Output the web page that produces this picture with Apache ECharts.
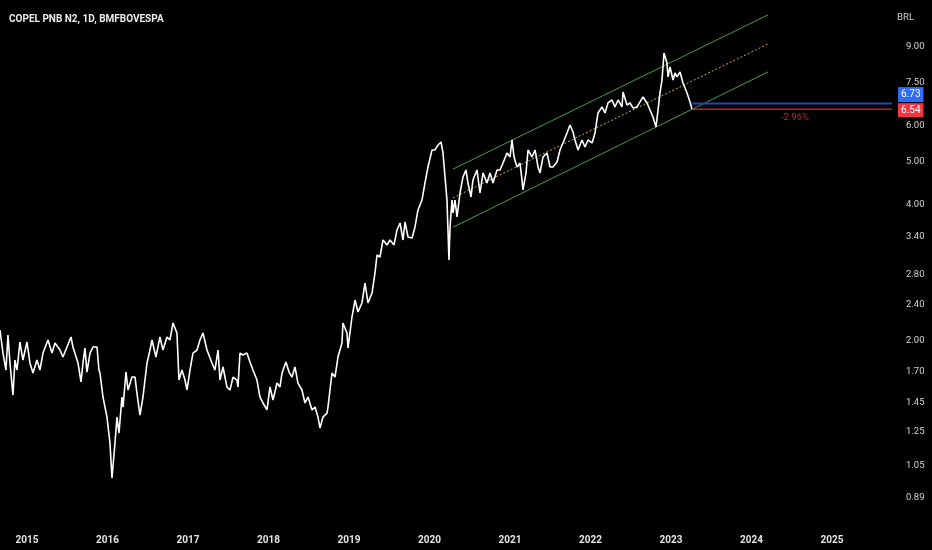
<!DOCTYPE html>
<html><head><meta charset="utf-8">
<script src="https://cdn.jsdelivr.net/npm/echarts@6/dist/echarts.min.js"></script>
<style>html,body{margin:0;padding:0;background:#000;}#c{width:932px;height:550px;}</style>
</head><body><div id="c"></div>
<script>
// ---- data ----
const titleText = 'COPEL PNB N2, 1D, BMFBOVESPA';
const currency = 'BRL';
const yearTicks = [2015,2016,2017,2018,2019,2020,2021,2022,2023,2024,2025];
const priceTicks = [0.89,1.05,1.25,1.45,1.70,2.00,2.40,2.80,3.40,4.00,5.00,6.00,7.50,9.00];
// [fractional year, price]
const priceSeries = [
[2014.665,2.107],[2014.702,1.872],[2014.739,1.716],[2014.764,2.054],[2014.789,1.779],[2014.826,1.509],[2014.851,1.806],[2014.876,1.716],[2014.913,1.981],[2014.950,1.806],
[2015.000,1.981],[2015.037,1.779],[2015.075,1.690],[2015.124,1.806],[2015.161,1.716],[2015.199,1.872],[2015.261,2.002],[2015.311,1.872],[2015.348,1.971],[2015.410,1.901],
[2015.447,1.834],[2015.497,1.931],[2015.547,2.033],[2015.571,1.931],[2015.634,1.779],[2015.671,1.614],[2015.696,1.779],[2015.720,1.921],[2015.745,1.698],[2015.783,1.872],
[2015.820,1.931],[2015.870,1.931],[2015.894,1.716],[2015.907,1.690],[2015.944,1.494],[2015.994,1.348],[2016.031,1.180],[2016.056,0.986],[2016.093,1.180],[2016.118,1.348],
[2016.143,1.242],[2016.180,1.494],[2016.193,1.419],[2016.230,1.698],[2016.255,1.549],[2016.304,1.655],[2016.342,1.655],[2016.366,1.525],[2016.404,1.362],[2016.441,1.494],
[2016.491,1.779],[2016.528,1.901],[2016.553,2.002],[2016.602,1.834],[2016.652,2.033],[2016.689,1.901],[2016.739,2.033],[2016.776,2.002],[2016.814,2.184],[2016.863,2.075],
[2016.888,1.630],[2016.925,1.716],[2016.963,1.630],[2016.988,1.549],[2017.025,1.716],[2017.062,1.872],[2017.112,1.901],[2017.149,2.002],[2017.186,2.075],[2017.236,1.901],
[2017.298,1.779],[2017.335,1.716],[2017.373,1.901],[2017.398,1.630],[2017.435,1.743],[2017.484,1.573],[2017.522,1.549],[2017.559,1.655],[2017.609,1.630],[2017.621,1.573],
[2017.646,1.872],[2017.683,1.853],[2017.733,1.872],[2017.770,1.788],[2017.807,1.716],[2017.857,1.630],[2017.894,1.494],[2017.932,1.449],[2017.981,1.398],[2018.019,1.573],
[2018.056,1.471],[2018.106,1.605],[2018.143,1.573],[2018.168,1.690],[2018.217,1.788],[2018.255,1.698],[2018.292,1.655],[2018.329,1.743],[2018.366,1.605],[2018.416,1.549],
[2018.453,1.449],[2018.491,1.494],[2018.540,1.398],[2018.578,1.419],[2018.615,1.348],[2018.640,1.274],[2018.677,1.348],[2018.727,1.376],[2018.739,1.419],[2018.764,1.549],
[2018.789,1.690],[2018.826,1.655],[2018.863,1.834],[2018.913,1.971],[2018.925,2.184],[2018.975,2.075],[2018.988,1.921],[2019.037,2.252],[2019.075,2.457],[2019.112,2.311],
[2019.161,2.420],[2019.199,2.681],[2019.236,2.420],[2019.286,2.547],[2019.323,2.823],[2019.348,3.096],[2019.385,3.064],[2019.422,3.343],[2019.472,3.259],[2019.509,3.343],
[2019.559,3.259],[2019.596,3.519],[2019.634,3.648],[2019.671,3.343],[2019.696,3.667],[2019.733,3.395],[2019.783,3.378],[2019.820,3.574],[2019.857,3.900],[2019.907,4.105],
[2019.944,4.479],[2019.981,4.862],[2020.031,5.306],[2020.068,5.306],[2020.106,5.443],[2020.143,5.528],[2020.168,5.224],[2020.193,4.619],[2020.217,4.105],[2020.242,3.017],
[2020.255,3.574],[2020.280,4.105],[2020.292,3.840],[2020.317,4.105],[2020.342,3.762],[2020.379,4.255],[2020.416,4.619],[2020.453,4.788],[2020.478,4.479],[2020.516,4.169],
[2020.540,4.549],[2020.590,4.788],[2020.627,4.255],[2020.665,4.715],[2020.714,4.479],[2020.752,4.715],[2020.789,4.479],[2020.839,4.788],[2020.876,4.788],[2020.913,4.963],
[2020.963,5.224],[2021.000,5.118],[2021.025,5.585],[2021.050,5.118],[2021.087,4.862],[2021.124,4.963],[2021.149,4.549],[2021.161,4.321],[2021.199,4.715],[2021.224,5.306],
[2021.273,5.118],[2021.311,5.306],[2021.348,4.862],[2021.373,4.715],[2021.410,5.118],[2021.460,5.224],[2021.497,4.862],[2021.534,4.862],[2021.584,4.989],[2021.621,5.306],
[2021.658,5.500],[2021.708,5.789],[2021.745,6.032],[2021.783,5.819],[2021.807,5.585],[2021.845,5.306],[2021.894,5.585],[2021.932,5.388],[2021.969,5.585],[2022.019,5.500],
[2022.056,5.789],[2022.093,6.415],[2022.143,6.615],[2022.180,6.415],[2022.217,6.752],[2022.267,6.857],[2022.304,6.615],[2022.342,6.857],[2022.391,6.615],[2022.404,7.144],
[2022.453,6.683],[2022.491,6.752],[2022.528,6.580],[2022.578,6.615],[2022.615,6.787],[2022.652,6.964],[2022.702,6.752],[2022.739,6.514],[2022.776,6.284],[2022.814,5.970],
[2022.839,6.514],[2022.863,7.108],[2022.888,7.598],[2022.913,8.727],[2022.950,8.291],[2022.963,7.716],[2022.988,8.122],[2023.025,7.598],[2023.050,7.876],[2023.075,7.716],
[2023.112,7.916],[2023.149,7.482],[2023.174,7.293],[2023.199,7.108],[2023.236,6.787],[2023.261,6.54]
];
const channelUpper = [[2020.292,4.81],[2024.205,10.61]];
const channelMiddle = [[2020.292,4.15],[2024.205,9.14]];
const channelLower = [[2020.292,3.57],[2024.205,7.92]];
const lineStart = 2023.261;
const blueLevel = 6.73;
const redLevel = 6.54;
const changeLabel = { text: '-2.96%', at: [2024.54, 6.252] };
const xMin = 2014.665, xMax = 2025.745;
const yMin = 0.767, yMax = 11.45;

const FONT = 'Roboto, "DejaVu Sans Condensed", sans-serif';
const chart = echarts.init(document.getElementById('c'));
chart.setOption({
  backgroundColor: '#000000',
  animation: false,
  title: [
    { text: titleText, left: 4, top: 9, textStyle: { color: '#ececec', fontSize: 10, fontWeight: 'bold', fontFamily: FONT } },
    { text: currency, right: 13, top: 8, textStyle: { color: '#d0d0d0', fontSize: 9.5, fontWeight: 'normal', fontFamily: FONT } }
  ],
  grid: { left: 0, right: 40, top: 0, bottom: 23, containLabel: false },
  xAxis: {
    type: 'value', min: xMin, max: xMax,
    axisLine: { show: false }, axisTick: { show: false }, splitLine: { show: false },
    axisLabel: { customValues: yearTicks, color: '#e4e4e4', fontSize: 10, fontWeight: 'bold', fontFamily: FONT, margin: 8,
      formatter: v => String(Math.round(v)) }
  },
  yAxis: {
    type: 'log', position: 'right', min: yMin, max: yMax, logBase: 10,
    axisLine: { show: false }, axisTick: { show: false }, splitLine: { show: false },
    axisLabel: { customValues: priceTicks, color: '#d4d4d4', fontSize: 9.5, fontFamily: FONT, margin: 14,
      formatter: v => Number(v).toFixed(2) }
  },
  series: [
    { type: 'line', data: channelUpper, symbol: 'none', lineStyle: { color: '#40a045', width: 1 }, silent: true },
    { type: 'line', data: channelLower, symbol: 'none', lineStyle: { color: '#40a045', width: 1 }, silent: true },
    { type: 'line', data: channelMiddle, symbol: 'none', lineStyle: { color: '#cdb340', width: 1, type: [2, 2] }, silent: true },
    { type: 'line', data: priceSeries, symbol: 'none', lineStyle: { color: '#ffffff', width: 1.6 }, silent: true },
    { type: 'line', data: [[lineStart, blueLevel], [xMax, blueLevel]], symbol: 'none', clip: false,
      lineStyle: { color: '#2447b8', width: 2 },
      endLabel: { show: true, formatter: blueLevel.toFixed(2), color: '#ffffff', backgroundColor: '#2f6bf6', padding: [3, 3, 2, 3],
        fontSize: 10, fontFamily: FONT, distance: 6, offset: [0, -9] } },
    { type: 'line', data: [[lineStart, redLevel], [xMax, redLevel]], symbol: 'none', clip: false,
      lineStyle: { color: '#b3242f', width: 1.5 },
      endLabel: { show: true, formatter: redLevel.toFixed(2), color: '#ffffff', backgroundColor: '#f23645', padding: [2, 3, 2, 3],
        fontSize: 10, fontFamily: FONT, distance: 6, offset: [0, 1] } },
    { type: 'scatter', data: [changeLabel.at], symbolSize: 0, silent: true,
      label: { show: true, position: 'inside', formatter: changeLabel.text, color: '#e0323f', fontSize: 9.5, fontFamily: FONT } }
  ]
});
</script></body></html>
